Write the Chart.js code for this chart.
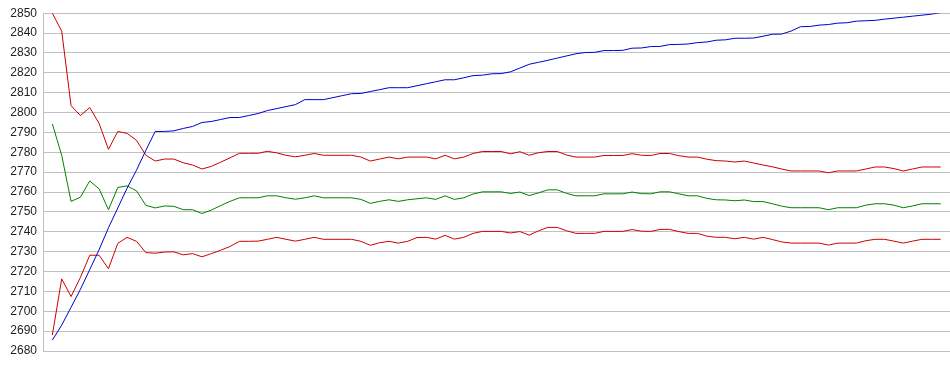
<!DOCTYPE html>
<html>
<head>
<meta charset="utf-8">
<script src="https://cdn.jsdelivr.net/npm/chart.js@4/dist/chart.umd.min.js"></script>
<style>
html,body{margin:0;padding:0;background:#fff;}
#wrap{width:950px;height:375px;position:relative;}
</style>
</head>
<body>
<div id="wrap"><canvas id="c" width="950" height="375"></canvas></div>
<script>
const yTicks = {min: 2680, max: 2850, step: 10};

const price = [2685.5,2693,2702,2711,2721,2731,2742,2752,2762,2771,2781,2790.5,2790.5,2790.8,2792,2793,2795,2795.5,2796.5,2797.5,
2797.5,2798.5,2799.5,2801,2802,2803,2804,2806.5,2806.5,2806.5,2807.5,2808.5,2809.5,2809.6,2810.6,2811.5,2812.5,2812.5,2812.5,2813.5,
2814.5,2815.5,2816.5,2816.5,2817.5,2818.6,2818.8,2819.5,2819.6,2820.5,2822.4,2824.3,2825.3,2826.3,2827.4,2828.5,2829.6,2830.2,2830.3,2831.2,
2831.2,2831.3,2832.4,2832.5,2833.2,2833.3,2834.2,2834.3,2834.5,2835.2,2835.5,2836.4,2836.6,2837.4,2837.4,2837.5,2838.4,2839.4,2839.5,2841,
2843.2,2843.3,2844,2844.3,2845,2845.2,2846,2846.2,2846.4,2847,2847.5,2848,2848.5,2849,2849.5,2850.3];

const upper = [2850,2841,2803.5,2798.5,2802.5,2794.5,2781.5,2790.5,2789.5,2786,2778.5,2775.6,2776.6,2776.6,2774.7,2773.6,2771.6,2772.9,2775,2777.2,
2779.5,2779.5,2779.5,2780.5,2779.7,2778.5,2777.7,2778.5,2779.4,2778.5,2778.5,2778.5,2778.5,2777.6,2775.6,2776.6,2777.6,2776.7,2777.6,2777.6,
2777.6,2776.7,2778.5,2776.7,2777.6,2779.4,2780.4,2780.4,2780.4,2779.2,2780.3,2778.5,2779.8,2780.4,2780.4,2778.6,2777.6,2777.6,2777.6,2778.4,
2778.4,2778.4,2779.3,2778.5,2778.4,2779.4,2779.4,2778.3,2777.6,2777.6,2776.5,2775.8,2775.6,2775.1,2775.6,2774.6,2773.6,2772.7,2771.6,2770.6,
2770.6,2770.6,2770.6,2769.7,2770.6,2770.6,2770.6,2771.6,2772.6,2772.6,2771.8,2770.6,2771.6,2772.6,2772.6,2772.6];

const middle = [2794.3,2778.5,2755.3,2757.4,2765.6,2761.6,2751.1,2762.3,2763.1,2760.6,2753.3,2752,2753,2752.8,2751.1,2751.1,2749.2,2750.9,2753.2,2755.3,
2757.1,2757.1,2757.1,2758.1,2758.1,2757.1,2756.4,2757.1,2758.1,2757.1,2757.1,2757.1,2757.1,2756.3,2754.3,2755.3,2756.1,2755.3,2756.1,2756.6,
2757.1,2756.3,2758.1,2756.3,2757.1,2759,2760.1,2760.1,2760.1,2759.3,2760,2758.2,2759.6,2761.1,2761.1,2759.3,2758.1,2758.1,2758.1,2759.1,
2759.1,2759.1,2760,2759.2,2759.1,2760.1,2760.1,2759.1,2758.1,2758.1,2756.8,2756.1,2756,2755.6,2756,2755.2,2755.2,2754.1,2752.9,2752.1,
2752.1,2752.1,2752.1,2751.1,2752.1,2752.1,2752.1,2753.4,2754.1,2754.1,2753.4,2752.1,2753,2754.1,2754.1,2754.1];

const lower = [2688,2716.3,2707.4,2717,2728.2,2728.2,2721.4,2734.2,2737.2,2735.2,2729.5,2729.2,2729.8,2729.9,2728.4,2729,2727.4,2729,2730.7,2732.6,
2735.2,2735.2,2735.3,2736.2,2737.2,2736.2,2735.3,2736.2,2737.2,2736.2,2736.2,2736.2,2736.2,2735.2,2733.2,2734.5,2735.2,2734.3,2735.2,2737.1,
2737.2,2736.3,2738.2,2736.3,2737.2,2739.2,2740.2,2740.2,2740.2,2739.4,2740.1,2738.3,2740.5,2742.2,2742.2,2740.5,2739.2,2739.2,2739.2,2740.2,
2740.2,2740.2,2741.1,2740.3,2740.2,2741.2,2741.2,2740.1,2739.2,2739.2,2737.8,2737.2,2737.2,2736.5,2737.2,2736.3,2737.2,2736.1,2734.9,2734.3,
2734.3,2734.3,2734.3,2733.3,2734.3,2734.3,2734.3,2735.5,2736.2,2736.2,2735.3,2734.3,2735.3,2736.2,2736.2,2736.2];

const toXY = arr => arr.map((v, i) => ({x: i + 1, y: v}));
const mk = (arr, color) => ({
  data: toXY(arr), borderColor: color, borderWidth: 1, pointRadius: 0,
  fill: false, tension: 0, spanGaps: true
});

new Chart(document.getElementById('c'), {
  type: 'line',
  data: {
    datasets: [
      mk(price, '#0000cc'),
      mk(upper, '#cc0000'),
      mk(middle, '#008000'),
      mk(lower, '#cc0000')
    ]
  },
  options: {
    responsive: false,
    animation: false,
    events: [],
    layout: {padding: {top: 10, bottom: 24, left: 0, right: 0}},
    plugins: {legend: {display: false}, tooltip: {enabled: false}, title: {display: false}},
    scales: {
      x: {
        type: 'linear', min: 0, max: price.length + 1, display: false
      },
      y: {
        min: yTicks.min, max: yTicks.max,
        afterFit: s => { s.width = 43; },
        border: {display: true, color: '#c0c0c0', width: 1},
        grid: {color: '#c0c0c0', lineWidth: 1, drawTicks: false},
        ticks: {
          stepSize: yTicks.step, padding: 6, color: '#222',
          callback: v => String(v),
          font: {family: '"Liberation Sans", Arial, sans-serif', size: 12}
        }
      }
    }
  }
});
</script>
</body>
</html>
